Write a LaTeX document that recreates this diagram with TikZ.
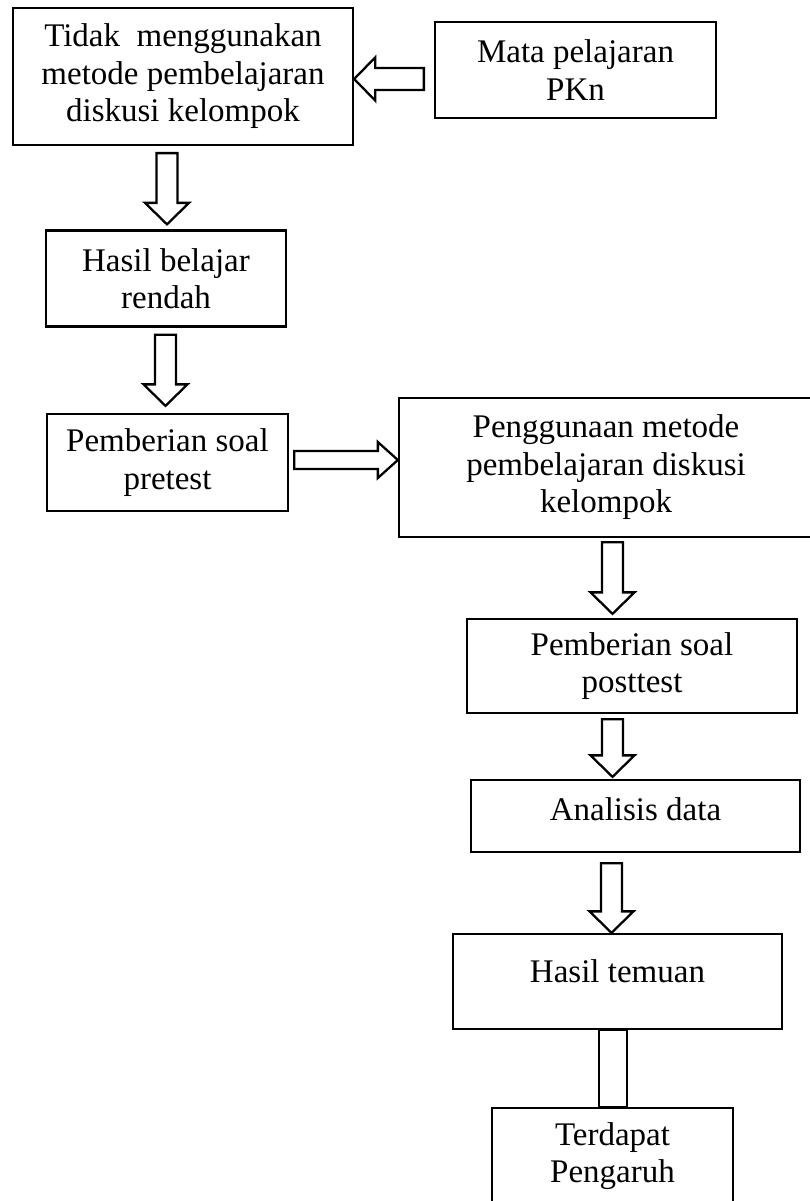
\documentclass[tikz,border=0pt]{standalone}
\usepackage{fontspec}
\setmainfont{Liberation Serif}
\usetikzlibrary{calc}
\tikzset{
  box/.style={draw, line width=2.3pt, inner sep=0pt, align=center, fill=white,
    font=\fontsize{33}{37.5}\selectfont},
  barrow/.style={draw, line width=2.3pt, fill=white, line join=miter},
}
% vertical block arrow: #1 start point, #2 tip point
\newcommand\vblockarrow[2]{%
  \draw[barrow] let \p1=(#1), \p2=(#2) in
    (\x1-10.5pt,\y1) -- (\x1+10.5pt,\y1) -- (\x1+10.5pt,\y2+21.5pt) -- (\x1+22pt,\y2+21.5pt)
    -- (\x1,\y2) -- (\x1-22pt,\y2+21.5pt) -- (\x1-10.5pt,\y2+21.5pt) -- cycle;}
% horizontal block arrow: #1 start, #2 tip, #3 shaft half, #4 head half, #5 head length
\newcommand\hblockarrow[5]{%
  \draw[barrow] let \p1=(#1), \p2=(#2), \n1={sign(\x2-\x1)} in
    (\x1,\y2+#3) -- (\x2-\n1*#5,\y2+#3) -- (\x2-\n1*#5,\y2+#4) -- (\x2,\y2)
    -- (\x2-\n1*#5,\y2-#4) -- (\x2-\n1*#5,\y2-#3) -- (\x1,\y2-#3) -- cycle;}
\begin{document}
\begin{tikzpicture}[x=1pt,y=-1pt]
\useasboundingbox (0,0) rectangle (810,1201);
\clip (0,0) rectangle (810,1201);

\node[box, minimum width=340pt, minimum height=137pt] (b1) at (183,76.5)
  {Tidak~ menggunakan\\metode pembelajaran\\diskusi kelompok};
\node[box, minimum width=281pt, minimum height=96pt] (mp) at (575.5,70)
  {Mata pelajaran\\PKn};
\node[box, minimum width=240pt, minimum height=96pt] (b2) at (166,278.5)
  {Hasil belajar\\rendah};
\node[box, minimum width=241pt, minimum height=97pt] (b3) at (167.5,462.5)
  {Pemberian soal\\pretest};
\node[box, minimum width=414pt, minimum height=139pt] (b4) at (606,467.5)
  {Penggunaan metode\\pembelajaran diskusi\\kelompok};
\node[box, minimum width=330pt, minimum height=94pt] (b5) at (632,666)
  {Pemberian soal\\posttest};
\node[box, minimum width=329pt, minimum height=72pt, text depth=14.5pt] (b6) at (635.5,816)
  {Analisis data};
\node[box, minimum width=329pt, minimum height=95pt, text depth=21.5pt] (b7) at (617.5,981.5)
  {Hasil temuan};
\node[box, minimum width=241pt, minimum height=96pt] (b8) at (612.5,1156)
  {Terdapat\\Pengaruh};

% arrows
\coordinate (a0s) at ($(mp.west |- 0,79)+(-10,0)$);
\coordinate (a0t) at (b1.east |- 0,79);
\hblockarrow{a0s}{a0t}{11pt}{21.5pt}{21pt}

\coordinate (a1s) at ($(167,0 |- b1.south)+(0,7)$);
\coordinate (a1t) at ($(167,0 |- b2.north)+(0,-5)$);
\vblockarrow{a1s}{a1t}

\coordinate (a2s) at ($(165.5,0 |- b2.south)+(0,7)$);
\coordinate (a2t) at ($(165.5,0 |- b3.north)+(0,-7)$);
\vblockarrow{a2s}{a2t}

\coordinate (a3s) at ($(b3.east |- 0,460)+(5,0)$);
\coordinate (a3t) at (b4.west |- 0,460);
\hblockarrow{a3s}{a3t}{9pt}{18pt}{20pt}

\coordinate (a4s) at ($(612.5,0 |- b4.south)+(0,4)$);
\coordinate (a4t) at ($(612.5,0 |- b5.north)+(0,-4)$);
\vblockarrow{a4s}{a4t}

\coordinate (a5s) at ($(612.5,0 |- b5.south)+(0,5)$);
\coordinate (a5t) at ($(612.5,0 |- b6.north)+(0,-2)$);
\vblockarrow{a5s}{a5t}

\coordinate (a6s) at ($(611.5,0 |- b6.south)+(0,10)$);
\coordinate (a6t) at (611.5,0 |- b7.north);
\vblockarrow{a6s}{a6t}

\draw[barrow] (599,0 |- b7.south) rectangle (627,0 |- b8.north);
\end{tikzpicture}
\end{document}
